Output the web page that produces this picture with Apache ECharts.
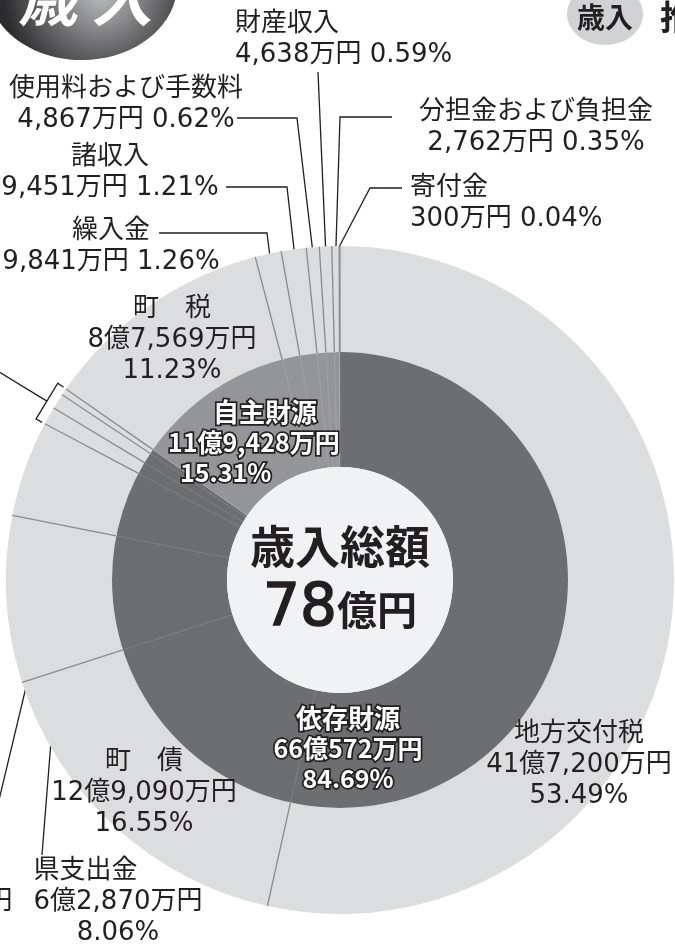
<!DOCTYPE html>
<html>
<head>
<meta charset="utf-8">
<style>
  html, body { margin: 0; padding: 0; background: #fff; }
  #chart { width: 675px; height: 945px; }
</style>
<script src="https://cdn.jsdelivr.net/npm/echarts@6/dist/echarts.min.js"></script>
</head>
<body>
<div id="chart"></div>
<script>
// 歳入の内訳（単位：万円）、12時の位置から時計回り
const categories = [
  '地方交付税', '町債', '県支出金', '国庫支出金',
  'その他交付金1', 'その他交付金2', 'その他交付金3',
  '町税', '繰入金', '諸収入', '使用料および手数料', '財産収入', '分担金および負担金', '寄付金'
]
const values = [417200, 129090, 62870, 36280, 6708, 5850, 2574, 87569, 9841, 9451, 4867, 4638, 2762, 300]

// 内側の輪：財源別
const groups = ['依存財源', '自主財源']
const groupValues = [660572, 119428]

const TOTAL = values.reduce((a, b) => a + b, 0)

// 見た目
const CX = 340
const CY = 580
const R_CORE = 113
const R_MID = 228
const R_OUT = 334
const TEXT = '#231f20'
const RING_LIGHT = '#dcdddf'
const RING_DARK = '#6d6e71'
const RING_MID = '#939598'
const CORE = '#f1f2f4'
const LABEL_FONT = '"DejaVu Sans", "Noto Sans CJK JP", sans-serif'
const BOLD_FONT = '"Noto Sans CJK JP", sans-serif'

const fmtYen = v => {
  const oku = Math.floor(v / 10000)
  const man = v % 10000
  return (oku ? oku + '億' : '') + (man ? man.toLocaleString('en-US') : '') + '万円'
}
const fmtPct = v => (v / TOTAL * 100).toFixed(2) + '%'
const spaced = name => name.length === 2 ? name[0] + '　' + name[1] : name

// 各項目の中央の累積値（引出線の始点用）
const midValues = []
let acc = 0
values.forEach(v => { midValues.push(acc + v / 2); acc += v })
const boundaries = []
acc = 0
values.forEach(v => { boundaries.push([R_OUT, acc]); acc += v })
const groupStart = values.slice(0, 4).reduce((a, b) => a + b, 0)
const groupEnd = groupStart + values[4] + values[5] + values[6]

const pointAt = (r, v) => {
  const a = Math.PI / 2 - v / TOTAL * Math.PI * 2
  return [CX + r * Math.cos(a), CY - r * Math.sin(a)]
}

// ラベルの配置
const outerLayout = {
  '地方交付税': { x: 579, y: 765, align: 'center', rows: 3 },
  '町債': { x: 144, y: 793, align: 'center', rows: 3 },
  '県支出金': { x: 118, y: 902, align: 'center', rows: 3, firstLeft: true, line: { r: 278, pts: [[42, 855], [42, 855]] } },
  '国庫支出金': { x: -72, y: 902, align: 'center', rows: 3, line: { r: 282, pts: [[-13, 850], [-13, 850]] } },
  '町税': { x: 172, y: 340, align: 'center', rows: 3 },
  '繰入金': { x: 111, y: 247, align: 'center', rows: 2, line: { r: 318, pts: [[267, 233], [159, 233]] } },
  '諸収入': { x: 110, y: 173, align: 'center', rows: 2, line: { r: 318, pts: [[287, 187], [226, 187]] } },
  '使用料および手数料': { x: 126, y: 105, align: 'center', rows: 2, line: { r: 320, pts: [[297, 118], [237, 118]] } },
  '財産収入': { x: 235, y: 40, align: 'left', rows: 2, line: { r: 322, pts: [[318, 72], [318, 72]] } },
  '分担金および負担金': { x: 536, y: 128, align: 'center', rows: 2, line: { r: 323, pts: [[340, 117], [392, 117]] } },
  '寄付金': { x: 410, y: 204, align: 'left', rows: 2, line: { r: 334, pts: [[370, 188], [402, 188]] } }
}
const innerLayout = {
  '依存財源': { x: 348, y: 748, align: 'center' },
  '自主財源': { x: 168, y: 442, align: 'left' }
}

const outerRich = {}
;['left', 'center'].forEach(al => {
  outerRich['t_' + al] = { fontSize: 26, lineHeight: 31, fontFamily: LABEL_FONT, color: TEXT, align: al }
})

const outerData = categories.map((name, i) => {
  const cfg = outerLayout[name]
  const item = {
    name,
    value: values[i],
    itemStyle: { color: RING_LIGHT }
  }
  if (!cfg) {
    item.label = { show: false }
    item.labelLine = { show: false }
    return item
  }
  const al = cfg.align
  let text
  if (cfg.rows === 3) {
    const first = cfg.firstLeft ? 't_left' : 't_' + al
    text = `{${first}|${spaced(name)}}\n{t_${al}|${fmtYen(values[i])}}\n{t_${al}|${fmtPct(values[i])}}`
  } else {
    text = `{t_${al}|${name}}\n{t_${al}|${fmtYen(values[i])} ${fmtPct(values[i])}}`
  }
  item.label = { show: true, formatter: text }
  item.labelLine = { show: !!cfg.line }
  return item
})

const innerData = groups.map((name, i) => ({
  name,
  value: groupValues[i],
  itemStyle: { color: i === 0 ? RING_DARK : RING_MID },
  label: {
    formatter: i === 0
      ? `{n|${name}}\n{v|${fmtYen(groupValues[i])}}\n{v|${fmtPct(groupValues[i])}}`
      : `{n2|${name}}\n{v2|${fmtYen(groupValues[i])}}\n{p2|${fmtPct(groupValues[i])}}`
  }
}))

const boldOutline = {
  fontFamily: BOLD_FONT, fontWeight: 'bold', fontSize: 26, lineHeight: 30,
  color: '#fff', textBorderColor: TEXT, textBorderWidth: 3.5
}

const chart = echarts.init(document.getElementById('chart'))

chart.setOption({
  animation: false,
  backgroundColor: '#fff',
  polar: { center: [CX, CY], radius: [0, R_OUT] },
  radiusAxis: { type: 'value', min: 0, max: R_OUT, show: false },
  angleAxis: { type: 'value', min: 0, max: TOTAL, startAngle: 90, clockwise: true, show: false },
  graphic: [
    {
      type: 'ellipse',
      shape: { cx: 82, cy: -15, rx: 95, ry: 75 },
      style: {
        fill: new echarts.graphic.RadialGradient(0.6, 0.55, 0.65, [
          { offset: 0, color: '#bdbec0' },
          { offset: 1, color: '#2c2c2e' }
        ])
      }
    },
    {
      type: 'text', x: 48, y: -2,
      style: {
        text: '歳', fill: '#fff', font: 'italic bold 60px "Noto Sans CJK JP"',
        align: 'center', verticalAlign: 'middle',
        shadowColor: '#1a1a1a', shadowOffsetX: 4, shadowOffsetY: 3, shadowBlur: 1
      }
    },
    {
      type: 'text', x: 122, y: -2,
      style: {
        text: '入', fill: '#fff', font: 'italic bold 60px "Noto Sans CJK JP"',
        align: 'center', verticalAlign: 'middle',
        shadowColor: '#1a1a1a', shadowOffsetX: 4, shadowOffsetY: 3, shadowBlur: 1
      }
    },
    {
      type: 'ellipse',
      shape: { cx: 605, cy: 14, rx: 38, ry: 31 },
      style: { fill: '#d1d2d4' }
    },
    {
      type: 'text', x: 605, y: 17,
      style: {
        text: '歳入', fill: TEXT, font: 'bold 28px "Noto Sans CJK JP"',
        align: 'center', verticalAlign: 'middle'
      }
    },
    {
      type: 'text', x: 660, y: 17,
      style: {
        text: '推', fill: TEXT, font: 'bold 34px "Noto Sans CJK JP"',
        align: 'left', verticalAlign: 'middle'
      }
    }
  ],
  series: [
    {
      name: '歳入内訳',
      type: 'pie',
      center: [CX, CY],
      radius: [R_MID, R_OUT],
      startAngle: 90,
      clockwise: true,
      avoidLabelOverlap: false,
      silent: true,
      label: { show: true, position: 'outside', rich: outerRich },
      labelLine: { show: true, smooth: false, lineStyle: { color: TEXT, width: 1.3 } },
      labelLayout: params => {
        const name = categories[params.dataIndex]
        const cfg = outerLayout[name]
        if (!cfg) return {}
        const res = { x: cfg.x, y: cfg.y, align: cfg.align, verticalAlign: 'middle' }
        if (cfg.line) {
          res.labelLinePoints = [pointAt(cfg.line.r, midValues[params.dataIndex])].concat(cfg.line.pts)
        }
        return res
      },
      data: outerData
    },
    {
      name: '財源',
      type: 'pie',
      center: [CX, CY],
      radius: [R_CORE, R_MID],
      startAngle: 90,
      clockwise: true,
      silent: true,
      label: {
        show: true,
        position: 'inside',
        rich: {
          n: Object.assign({ align: 'center' }, boldOutline),
          v: Object.assign({ align: 'center' }, boldOutline, { fontSize: 25 }),
          n2: Object.assign({ align: 'left', padding: [0, 0, 0, 45] }, boldOutline),
          v2: Object.assign({ align: 'left' }, boldOutline, { fontSize: 25 }),
          p2: Object.assign({ align: 'left', padding: [0, 0, 0, 12] }, boldOutline, { fontSize: 25 })
        }
      },
      labelLine: { show: false },
      labelLayout: params => {
        const cfg = innerLayout[groups[params.dataIndex]]
        return { x: cfg.x, y: cfg.y, align: cfg.align, verticalAlign: 'middle' }
      },
      data: innerData
    },
    {
      name: '歳入総額',
      type: 'pie',
      center: [CX, CY],
      radius: [0, R_CORE],
      silent: true,
      label: {
        show: true,
        position: 'center',
        formatter: `{a|歳入総額}\n{b|${Math.round(TOTAL / 10000)}}{c|億円}`,
        rich: {
          a: { fontFamily: BOLD_FONT, fontWeight: 'bold', fontSize: 45, lineHeight: 60, color: TEXT },
          b: { fontFamily: '"DejaVu Sans"', fontSize: 58, lineHeight: 66, color: TEXT, textBorderColor: TEXT, textBorderWidth: 1.6 },
          c: { fontFamily: BOLD_FONT, fontWeight: 'bold', fontSize: 40, lineHeight: 66, color: TEXT }
        }
      },
      labelLine: { show: false },
      data: [{ name: '歳入総額', value: TOTAL, itemStyle: { color: CORE } }]
    },
    {
      // 各項目の境界線
      type: 'custom',
      coordinateSystem: 'polar',
      silent: true,
      z: 3,
      encode: { radius: 0, angle: 1 },
      renderItem: (params, api) => {
        const v = api.value(1)
        const p0 = api.coord([R_CORE, v])
        const p1 = api.coord([R_MID, v])
        const p2 = api.coord([R_OUT, v])
        return {
          type: 'group',
          children: [
            { type: 'line', shape: { x1: p0[0], y1: p0[1], x2: p1[0], y2: p1[1] }, style: { stroke: 'rgba(255,255,255,0.12)', lineWidth: 1 } },
            { type: 'line', shape: { x1: p1[0], y1: p1[1], x2: p2[0], y2: p2[1] }, style: { stroke: '#8a8b8e', lineWidth: 1.3 } }
          ]
        }
      },
      data: boundaries
    },
    {
      // 小さな項目をまとめる括弧
      type: 'custom',
      coordinateSystem: 'polar',
      silent: true,
      z: 3,
      encode: { radius: 0, angle: [1, 2] },
      renderItem: (params, api) => {
        const s = api.value(1)
        const e = api.value(2)
        const m = (s + e) / 2
        const t1 = api.coord([R_OUT + 3, e])
        const s1 = api.coord([R_OUT + 10, e])
        const s2 = api.coord([R_OUT + 10, s])
        const t2 = api.coord([R_OUT + 3, s])
        const m0 = [(s1[0] + s2[0]) / 2, (s1[1] + s2[1]) / 2]
        const m1 = api.coord([R_OUT + 110, m])
        return {
          type: 'group',
          children: [
            { type: 'polyline', shape: { points: [t1, s1, s2, t2] }, style: { stroke: TEXT, lineWidth: 1.3, fill: null } },
            { type: 'line', shape: { x1: m0[0], y1: m0[1], x2: m1[0], y2: m1[1] }, style: { stroke: TEXT, lineWidth: 1.3 } }
          ]
        }
      },
      data: [[R_OUT, groupStart, groupEnd]]
    }
  ]
})
</script>
</body>
</html>
